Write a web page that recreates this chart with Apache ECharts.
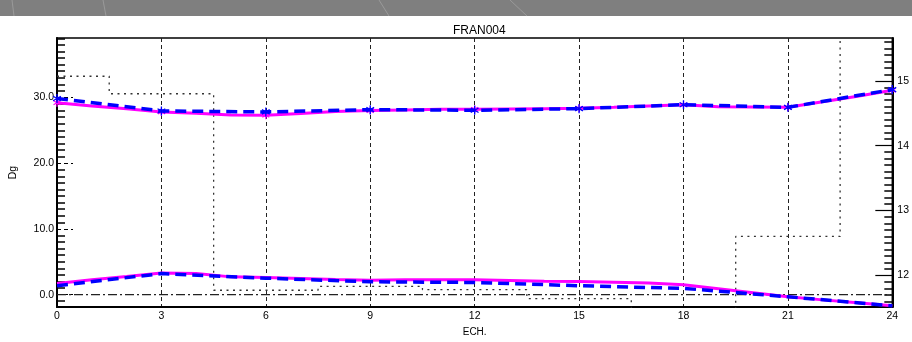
<!DOCTYPE html>
<html>
<head>
<meta charset="utf-8">
<script src="https://cdn.jsdelivr.net/npm/echarts@6.0.0/dist/echarts.min.js"></script>
<style>
  html, body { margin: 0; padding: 0; background: #fff; }
  #chart { width: 912px; height: 342px; }
</style>
</head>
<body>
<div id="chart"></div>
<script>
// Forecast lead times (hours)
const hours3 = [0, 3, 6, 9, 12, 15, 18, 21, 24];
const hours1 = [0, 1, 2, 3, 4, 5, 6, 7, 8, 9, 10, 11, 12, 13, 14, 15, 16, 17, 18, 19, 20, 21, 22, 23, 24];

// Upper pair (Dg, left axis)
const upperBlue = [29.85, 27.95, 27.8, 28.15, 28.05, 28.3, 28.9, 28.5, 31.2];
const upperMagenta = [29.2, 28.7, 28.3, 27.8, 27.6, 27.35, 27.3, 27.55, 27.85, 28.0, 28.1, 28.2, 28.2,
                      28.25, 28.3, 28.35, 28.5, 28.7, 28.9, 28.6, 28.55, 28.5, 29.35, 30.2, 31.1];

// Lower pair (Dg, left axis)
const lowerBlue = [1.35, 3.2, 2.5, 1.95, 1.85, 1.35, 0.95, -0.33, -1.7];
const lowerMagenta = [1.7, 2.25, 2.75, 3.3, 3.2, 2.7, 2.6, 2.45, 2.3, 2.2, 2.25, 2.25, 2.25,
                      2.15, 2.05, 2.0, 1.9, 1.75, 1.5, 0.9, 0.3, -0.33, -0.8, -1.25, -1.7];

// 3-hourly step values (right axis)
const stepLevel = [15.07, 14.80, 11.77, 11.83, 11.78, 11.64, 11.45, 12.60, 16.5];

// Zero reference line (Dg)
const zeroX = [0, 24];
const zeroY = [0, 0];

// Axis tick values
const leftMajor = [0, 10, 20, 30];
const leftMinor = [];
for (let v = -1; v <= 39; v++) if (v % 10 !== 0) leftMinor.push(v);
const rightMajor = [12, 13, 14, 15];
const rightMinor = [];
for (let k = 116; k <= 156; k++) if (k % 10 !== 0) rightMinor.push(k / 10);

const pairs = (xs, ys) => xs.map((x, i) => [x, ys[i]]);

const star = 'path://M0,-10L0,10M-8.66,-5L8.66,5M-8.66,5L8.66,-5';
const FONT = 'Liberation Sans';

const chart = echarts.init(document.getElementById('chart'), null, { renderer: 'canvas' });

chart.setOption({
  animation: false,
  backgroundColor: '#fff',
  textStyle: { fontFamily: FONT },
  title: {
    text: 'FRAN004',
    left: 448,
    top: 20,
    textStyle: { fontFamily: FONT, fontSize: 12, fontWeight: 'normal', color: '#000' }
  },
  graphic: [
    { type: 'rect', shape: { x: 0, y: 0, width: 912, height: 16 }, style: { fill: '#7f7f7f' }, silent: true },
    { type: 'line', shape: { x1: 12, y1: 0, x2: 14, y2: 16 }, style: { stroke: '#9a9a9a', lineWidth: 1 }, silent: true },
    { type: 'line', shape: { x1: 103, y1: 0, x2: 106, y2: 16 }, style: { stroke: '#9a9a9a', lineWidth: 1 }, silent: true },
    { type: 'line', shape: { x1: 379, y1: 0, x2: 389, y2: 16 }, style: { stroke: '#9a9a9a', lineWidth: 1 }, silent: true },
    { type: 'line', shape: { x1: 510, y1: 0, x2: 527, y2: 16 }, style: { stroke: '#9a9a9a', lineWidth: 1 }, silent: true }
  ],
  grid: {
    left: 56, right: 18, top: 38, bottom: 34,
    show: true, borderColor: '#000', borderWidth: 1.5, backgroundColor: '#fff'
  },
  xAxis: {
    type: 'value', min: 0, max: 24, interval: 3,
    name: 'ECH.', nameLocation: 'middle', nameGap: 17,
    nameTextStyle: { fontFamily: FONT, fontSize: 10, color: '#000' },
    axisLine: { show: true, onZero: false, lineStyle: { color: '#000', width: 2 } },
    axisTick: { show: false },
    axisLabel: { fontFamily: FONT, fontSize: 10.5, color: '#000', margin: 4 },
    splitLine: { show: true, lineStyle: { color: '#222', width: 1, type: [4, 3] } }
  },
  yAxis: [
    {
      // Dg scale with labels and dashed major ticks
      type: 'value', position: 'left', min: -1.9, max: 39.05,
      name: 'Dg', nameLocation: 'middle', nameGap: 38,
      nameTextStyle: { fontFamily: FONT, fontSize: 10.5, color: '#000' },
      axisLine: { show: true, onZero: false, lineStyle: { color: '#000', width: 2 } },
      axisTick: { show: true, inside: true, length: 16, customValues: leftMajor,
                  lineStyle: { color: '#000', width: 1, type: [4, 3] } },
      axisLabel: { show: true, customValues: leftMajor, formatter: v => v.toFixed(1),
                   fontFamily: FONT, fontSize: 10.5, color: '#000', margin: 3 },
      splitLine: { show: false }
    },
    {
      // unit minor ticks on the Dg scale
      type: 'value', position: 'left', min: -1.9, max: 39.05,
      axisLine: { show: false, onZero: false },
      axisTick: { show: true, inside: true, length: 8, customValues: leftMinor,
                  lineStyle: { color: '#000', width: 1.5 } },
      axisLabel: { show: false },
      splitLine: { show: false }
    },
    {
      // right scale with labels and long ticks
      type: 'value', position: 'right', min: 11.51, max: 15.66,
      axisLine: { show: true, onZero: false, lineStyle: { color: '#000', width: 2 } },
      axisTick: { show: true, inside: true, length: 17, customValues: rightMajor,
                  lineStyle: { color: '#000', width: 1.2 } },
      axisLabel: { show: true, customValues: rightMajor, formatter: v => String(v),
                   fontFamily: FONT, fontSize: 10.5, color: '#000', margin: 5 },
      splitLine: { show: false }
    },
    {
      // tenth ticks on the right scale
      type: 'value', position: 'right', min: 11.51, max: 15.66,
      axisLine: { show: false, onZero: false },
      axisTick: { show: true, inside: true, length: 8, customValues: rightMinor,
                  lineStyle: { color: '#000', width: 1.5 } },
      axisLabel: { show: false },
      splitLine: { show: false }
    }
  ],
  series: [
    {
      name: 'step', type: 'line', yAxisIndex: 2, step: 'middle',
      data: pairs(hours3, stepLevel), showSymbol: false, clip: true,
      lineStyle: { color: '#333', width: 1.3, type: [2, 4.5] }, z: 2
    },
    {
      name: 'zero', type: 'line', yAxisIndex: 0,
      data: pairs(zeroX, zeroY), showSymbol: false,
      lineStyle: { color: '#222', width: 1.2, type: [9, 3, 2, 3] }, z: 2
    },
    {
      name: 'upperM', type: 'line', yAxisIndex: 0,
      data: pairs(hours1, upperMagenta),
      symbol: (v, p) => (p.dataIndex % 3 === 0 ? star : 'none'), symbolSize: 8, symbolKeepAspect: true,
      itemStyle: { color: '#ff00ff', borderColor: '#ff00ff', borderWidth: 1.2 },
      lineStyle: { color: '#ff00ff', width: 3 }, z: 3
    },
    {
      name: 'lowerM', type: 'line', yAxisIndex: 0,
      data: pairs(hours1, lowerMagenta), showSymbol: false,
      lineStyle: { color: '#ff00ff', width: 3 }, z: 3
    },
    {
      name: 'upperB', type: 'line', yAxisIndex: 0,
      data: pairs(hours3, upperBlue),
      symbol: star, symbolSize: 9, symbolKeepAspect: true,
      itemStyle: { color: '#0000ff', borderColor: '#0000ff', borderWidth: 1.3 },
      lineStyle: { color: '#0000ff', width: 3.5, type: [11, 6] }, z: 4
    },
    {
      name: 'lowerB', type: 'line', yAxisIndex: 0,
      data: pairs(hours3, lowerBlue), showSymbol: false,
      lineStyle: { color: '#0000ff', width: 3.5, type: [11, 6] }, z: 4
    }
  ]
});
</script>
</body>
</html>
